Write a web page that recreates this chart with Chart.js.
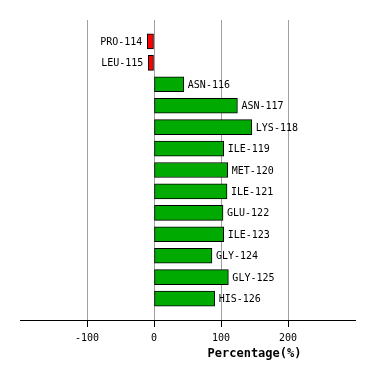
<!DOCTYPE html>
<html>
<head>
<meta charset="utf-8">
<script src="https://cdn.jsdelivr.net/npm/chart.js@4/dist/chart.umd.min.js"></script>
<style>
  html, body { margin: 0; padding: 0; background: #ffffff; }
  #wrap { width: 374px; height: 380px; }
</style>
</head>
<body>
<div id="wrap"><canvas id="myChart" width="374" height="380"></canvas></div>
<script>
// residues, top to bottom
const residues = ["PRO-114", "LEU-115", "ASN-116", "ASN-117", "LYS-118", "ILE-119", "MET-120",
  "ILE-121", "GLU-122", "ILE-123", "GLY-124", "GLY-125", "HIS-126"];
const percentages = [-10, -8.5, 44.5, 124.5, 146, 104, 110, 109, 103, 104, 86.5, 111, 90.5];
const xTicks = [-100, 0, 100, 200];
const xMin = -200;
const xMax = 300;

const FONT = "'DejaVu Sans Mono', monospace";

// empty slots at both ends so the bars sit one step in from the frame
const labels = [""].concat(residues, [""]);
const values = [null].concat(percentages, [null]);

const barLabels = {
  id: "barLabels",
  afterDatasetsDraw(chart) {
    const ctx = chart.ctx;
    const meta = chart.getDatasetMeta(0);
    ctx.save();
    ctx.font = "10px " + FONT;
    ctx.fillStyle = "#000000";
    ctx.textBaseline = "middle";
    meta.data.forEach((bar, i) => {
      const v = values[i];
      if (v === null) return;
      if (v < 0) {
        ctx.textAlign = "right";
        ctx.fillText(labels[i], bar.x - 5, bar.y + 1);
      } else {
        ctx.textAlign = "left";
        ctx.fillText(labels[i], bar.x + 4, bar.y + 1);
      }
    });
    // axis title, centred under the 150 mark like the original
    const xs = chart.scales.x;
    ctx.font = "bold 12px " + FONT;
    ctx.textAlign = "center";
    ctx.fillText("Percentage(%)", xs.getPixelForValue(150), chart.chartArea.bottom + 34);
    ctx.restore();
  }
};

new Chart(document.getElementById("myChart"), {
  type: "bar",
  data: {
    labels: labels,
    datasets: [{
      data: values,
      backgroundColor: values.map(v => (v !== null && v < 0) ? "#ff0000" : "#00aa00"),
      borderColor: "#000000",
      borderWidth: 1,
      borderSkipped: false,
      barThickness: 15,
    }],
  },
  options: {
    indexAxis: "y",
    responsive: false,
    animation: false,
    layout: { padding: { left: 20, right: 19, top: 20, bottom: 0 } },
    plugins: {
      legend: { display: false },
      tooltip: { enabled: false }
    },
    scales: {
      y: {
        display: false,
        offset: false,
        grid: { display: false }
      },
      x: {
        min: xMin,
        max: xMax,
        afterFit: (s) => { s.height = 60; },
        afterBuildTicks: (s) => {
          s.ticks = [xMin].concat(xTicks, [xMax]).map(v => ({ value: v }));
        },
        border: { display: true, color: "#000000", width: 1 },
        grid: {
          color: (c) => xTicks.includes(c.tick && c.tick.value) ? "#a0a0a0" : "rgba(0,0,0,0)",
          tickColor: (c) => xTicks.includes(c.tick && c.tick.value) ? "#000000" : "rgba(0,0,0,0)",
          tickLength: 7,
          lineWidth: 1
        },
        ticks: {
          color: "#000000",
          font: { family: FONT, size: 10 },
          padding: 5,
          maxRotation: 0,
          autoSkip: false,
          callback: (v) => xTicks.includes(v) ? String(v) : ""
        }
      }
    }
  },
  plugins: [barLabels]
});
</script>
</body>
</html>
